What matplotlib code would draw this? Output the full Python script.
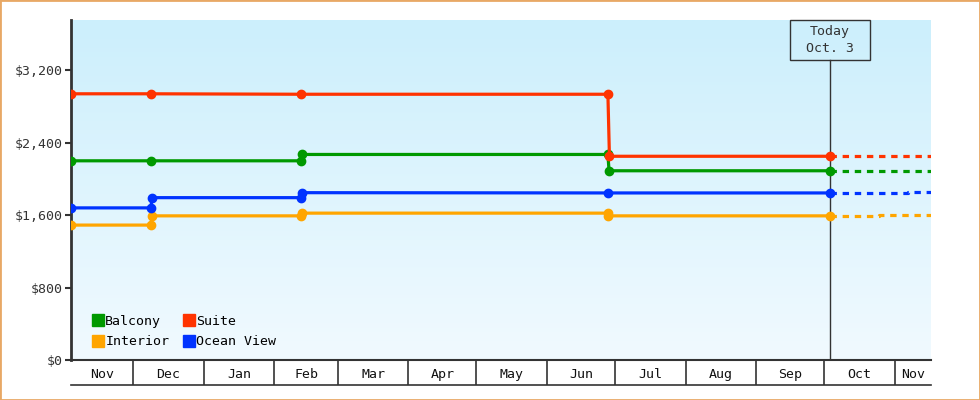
import numpy as np
import matplotlib
matplotlib.use("Agg")
import matplotlib.pyplot as plt
import matplotlib.dates as mdates
from matplotlib.lines import Line2D
from matplotlib.patches import Rectangle
from datetime import datetime

plt.rcParams['font.family'] = ['DejaVu Sans Mono']
plt.rcParams['font.size'] = 9.5

# price history (step changes have two entries at the change date)
balcony_dates = ["2014-11-03 14:00", "2014-12-08 20:00", "2015-02-12 20:00", "2015-02-13 02:00",
                 "2015-06-27 20:00", "2015-06-28 08:00", "2015-10-03 14:00"]
balcony_vals = [2200, 2200, 2200, 2270, 2270, 2090, 2090]
suite_dates = ["2014-11-03 14:00", "2014-12-08 20:00", "2015-02-12 20:00",
               "2015-06-27 20:00", "2015-06-28 12:00", "2015-10-03 14:00"]
suite_vals = [2940, 2940, 2935, 2935, 2250, 2250]
interior_dates = ["2014-11-03 14:00", "2014-12-08 20:00", "2014-12-09 02:00", "2015-02-12 20:00",
                  "2015-02-13 02:00", "2015-06-27 20:00", "2015-06-28 02:00", "2015-10-03 14:00"]
interior_vals = [1490, 1490, 1592, 1592, 1622, 1622, 1592, 1592]
ocean_dates = ["2014-11-03 14:00", "2014-12-08 20:00", "2014-12-09 02:00", "2015-02-12 20:00",
               "2015-02-13 02:00", "2015-06-27 20:00", "2015-10-03 14:00"]
ocean_vals = [1680, 1680, 1793, 1793, 1848, 1845, 1845]

# projections after today
proj_dates = ["2015-10-03 14:00", "2015-10-25 00:00", "2015-11-07 00:00", "2015-11-17 00:00"]
balcony_proj = [2090, 2090, 2090, 2090]
suite_proj = [2250, 2250, 2250, 2250]
interior_proj = [1592, 1605, 1605, 1605]
ocean_proj = [1845, 1845, 1858, 1858]

months = ["Nov", "Dec", "Jan", "Feb", "Mar", "Apr", "May", "Jun", "Jul", "Aug", "Sep", "Oct", "Nov"]
month_starts = ["2014-11-01", "2014-12-01", "2015-01-01", "2015-02-01", "2015-03-01", "2015-04-01",
                "2015-05-01", "2015-06-01", "2015-07-01", "2015-08-01", "2015-09-01", "2015-10-01",
                "2015-11-01", "2015-12-01"]
yticks = [0, 800, 1600, 2400, 3200]
today = "2015-10-03 14:00"

x_start = mdates.date2num(datetime(2014, 11, 3, 14))
x_end = mdates.date2num(datetime(2015, 11, 17, 0))

def d(lst):
    return mdates.date2num([datetime.strptime(s, "%Y-%m-%d %H:%M") if " " in s
                            else datetime.strptime(s, "%Y-%m-%d") for s in lst])

fig = plt.figure(figsize=(9.8, 4), dpi=100)
ax = fig.add_axes([71 / 980, 40 / 400, 860 / 980, 340 / 400])
ymax = 3755
ax.set_xlim(x_start, x_end)
ax.set_ylim(0, ymax)

# gradient background (light blue on top, almost white at the bottom)
grad = np.linspace(0, 1, 256).reshape(-1, 1)
cmap = matplotlib.colors.LinearSegmentedColormap.from_list("bg", ["#CCEFFC", "#F1FAFF"])
ax.imshow(grad, aspect='auto', cmap=cmap, extent=[x_start, x_end, 0, ymax], origin='upper', zorder=0)
ax.set_ylim(0, ymax)

series = [
    ("Interior", "#FFA500", interior_dates, interior_vals, interior_proj),
    ("Ocean View", "#0033FF", ocean_dates, ocean_vals, ocean_proj),
    ("Balcony", "#009900", balcony_dates, balcony_vals, balcony_proj),
    ("Suite", "#FF3300", suite_dates, suite_vals, suite_proj),
]
pd_x = d(proj_dates)
for name, col, ds, vs, pv in series:
    ax.plot(d(ds), vs, color=col, lw=2.3, marker='o', ms=6, zorder=3)
    ax.plot(pd_x, pv, color=col, lw=2.3, dashes=(2, 1.8), zorder=3, drawstyle='steps-post')

# today marker
t = d([today])[0]
tf = (t - x_start) / (x_end - x_start)
box_bottom = 1 - 40 / 340
ax.axvline(t, ymin=0, ymax=box_bottom, color="#333333", lw=1, zorder=2)
bw = 80 / 860
ax.add_patch(Rectangle((tf - bw / 2, box_bottom), bw, 1 - box_bottom, transform=ax.transAxes,
                       fill=False, ec="#333333", lw=1, clip_on=False, zorder=4))
ax.text(tf, (1 + box_bottom) / 2, "Today\nOct. 3", transform=ax.transAxes, ha='center', va='center',
        color="#333333", linespacing=1.3, zorder=5)

# y axis
ax.set_yticks(yticks)
ax.set_yticklabels(["${:,}".format(v) for v in yticks], color="#333333")
ax.tick_params(axis='y', length=4, width=1.5, color="#333333", pad=2)

# x axis as month cells
bounds = d(month_starts)
inner = [b for b in bounds if x_start < b < x_end]
ax.set_xticks(inner)
ax.set_xticklabels([])
ax.tick_params(axis='x', which='major', length=18, width=1.2, color="#333333")
centers = []
for i in range(len(months)):
    a = max(bounds[i], x_start)
    b = min(bounds[i + 1], x_end)
    centers.append((a + b) / 2)
ax.set_xticks(centers, minor=True)
ax.set_xticklabels(months, minor=True, color="#111111")
ax.tick_params(axis='x', which='minor', length=0, pad=6)

for s in ['top', 'right']:
    ax.spines[s].set_visible(False)
ax.spines['left'].set_linewidth(2)
ax.spines['left'].set_color("#333333")
ax.spines['bottom'].set_linewidth(1.5)
ax.spines['bottom'].set_color("#333333")
ax.plot([0, 1], [-25 / 340, -25 / 340], transform=ax.transAxes, color="#333333", lw=1.2, clip_on=False)

# legend
handles = [Line2D([], [], color=c, marker='s', ls='none', ms=8) for c in ["#009900", "#FFA500", "#FF3300", "#0033FF"]]
labels = ["Balcony", "Interior", "Suite", "Ocean View"]
ax.legend(handles, labels, ncol=2, loc='lower left', bbox_to_anchor=(0.01, 0.0), frameon=False,
          handletextpad=0.05, columnspacing=1.0, labelspacing=0.55, handlelength=1.0, fontsize=9.5)

fig.add_artist(Rectangle((0, 0), 1, 1, transform=fig.transFigure, fill=False, ec="#E8A865", lw=2))
fig.savefig("out.png", dpi=100)
